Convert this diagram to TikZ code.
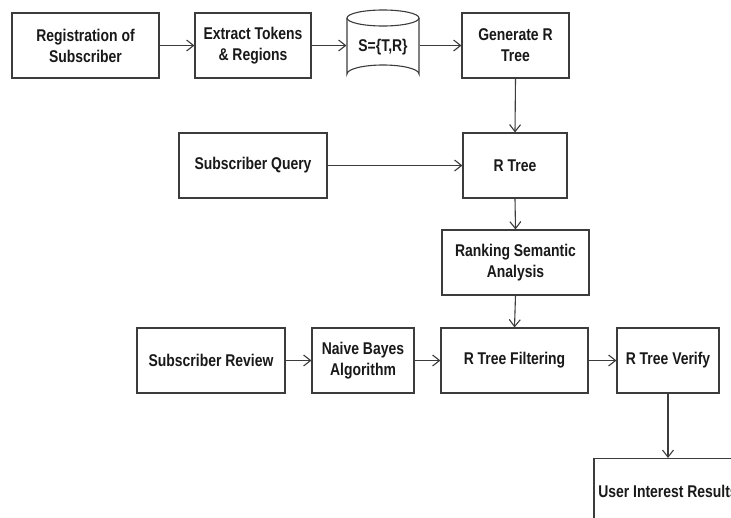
\documentclass[tikz,border=0pt]{standalone}
\usepackage{fontspec}
\setmainfont{Liberation Sans}[FakeStretch=0.82]
\usetikzlibrary{arrows.meta}
\definecolor{ln}{HTML}{3C3C3C}
\begin{document}
\begin{tikzpicture}[x=1pt,y=-1pt,
  box/.style={draw=ln, line width=1.1pt, rectangle, inner sep=0pt, align=center,
    font=\fontsize{17}{21}\selectfont\bfseries, text=black!90},
  conn/.style={draw=ln, line width=1.1pt, -{Straight Barb[length=7pt,width=11pt,line width=1.1pt]}}]
\useasboundingbox (0,0) rectangle (731,517);
\fill[white] (0,0) rectangle (731,517);
\clip (0,0) rectangle (731,517);
% row 1
\node[box, minimum width=147pt, minimum height=65pt] (reg) at (85.5,45.5) {Registration of\\Subscriber};
\node[box, minimum width=116pt, minimum height=65pt] (ext) at (253,45.5) {Extract Tokens\\\& Regions};
% cylinder
\draw[ln, line width=1.1pt, fill=white] (347,18) -- (347,74) arc[start angle=180, end angle=360, x radius=36, y radius=9] -- (419,18);
\draw[ln, line width=1.1pt] (383,18) ellipse[x radius=36, y radius=8];
\node[box, draw=none, minimum width=72pt, minimum height=73pt] (cyl) at (383,47) {S=\{T,R\}};
\node[box, minimum width=107pt, minimum height=65pt] (gen) at (515.5,45.5) {Generate R\\Tree};
% row 2
\node[box, minimum width=148pt, minimum height=65pt] (sq) at (253,165.5) {Subscriber Query};
\node[box, minimum width=104pt, minimum height=65pt] (rt) at (515,165.5) {R Tree};
% row 3
\node[box, minimum width=147pt, minimum height=65pt] (rank) at (515.5,262.5) {Ranking Semantic\\Analysis};
% row 4
\node[box, minimum width=148pt, minimum height=65pt] (sr) at (211,360.5) {Subscriber Review};
\node[box, minimum width=102pt, minimum height=65pt] (nb) at (363,360.5) {Naive Bayes\\Algorithm};
\node[box, minimum width=147pt, minimum height=65pt] (rtf) at (514.5,360.5) {R Tree Filtering};
\node[box, minimum width=102pt, minimum height=65pt] (rtv) at (668,360.5) {R Tree Verify};
% row 5
\node[box, minimum width=148pt, minimum height=65pt] (uir) at (668,491) {User Interest Results};
% connectors
\draw[conn] (reg.east) -- (ext.west);
\draw[conn] (ext.east) -- (cyl.west |- ext.east);
\draw[conn] (cyl.east |- gen.west) -- (gen.west);
\draw[conn] (gen.south) -- (rt.north);
\draw[conn] (sq.east) -- (rt.west);
\draw[conn] (rt.south) -- (rank.north);
\draw[conn] (rank.south) -- (rtf.north);
\draw[conn] (sr.east) -- (nb.west);
\draw[conn] (nb.east) -- (rtf.west);
\draw[conn] (rtf.east) -- (rtv.west);
\draw[conn] (rtv.south) -- (uir.north);
\end{tikzpicture}
\end{document}
